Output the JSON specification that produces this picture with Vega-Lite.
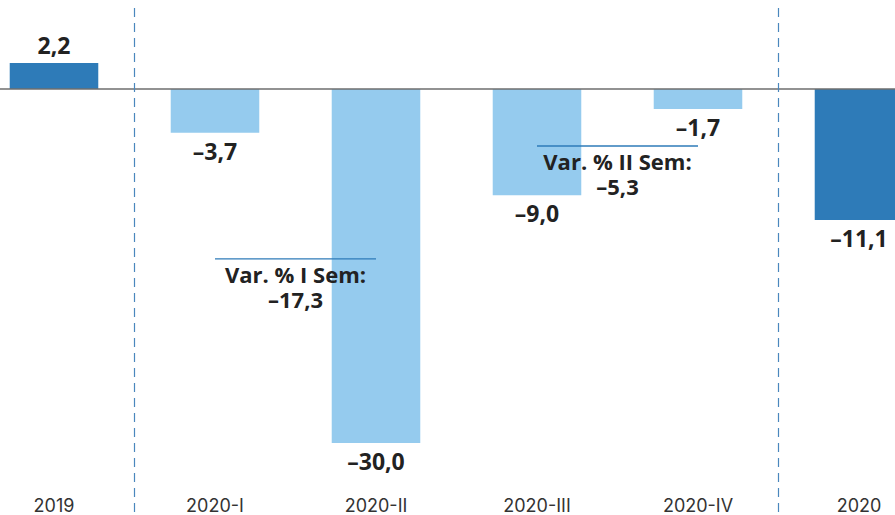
{
  "$schema": "https://vega.github.io/schema/vega-lite/v6.json",
  "width": 895,
  "height": 515,
  "autosize": "none",
  "padding": 0,
  "background": "white",
  "config": {"view": {"stroke": null}},
  "datasets": {
    "bars": [
      {"cat": "2019", "value": 2.2, "label": "2,2", "kind": "year"},
      {"cat": "2020-I", "value": -3.7, "label": "–3,7", "kind": "quarter"},
      {"cat": "2020-II", "value": -30.0, "label": "–30,0", "kind": "quarter"},
      {"cat": "2020-III", "value": -9.0, "label": "–9,0", "kind": "quarter"},
      {"cat": "2020-IV", "value": -1.7, "label": "–1,7", "kind": "quarter"},
      {"cat": "2020", "value": -11.1, "label": "–11,1", "kind": "year"}
    ],
    "dividers": [{"cat": "2019"}, {"cat": "2020-IV"}],
    "notes": [
      {"from": "2020-I", "to": "2020-II", "lineAt": -14.4, "text": ["Var. % I Sem:", "–17,3"]},
      {"from": "2020-III", "to": "2020-IV", "lineAt": -4.83, "text": ["Var. % II Sem:", "–5,3"]}
    ]
  },
  "layer": [
    {
      "data": {"name": "bars"},
      "mark": {"type": "bar", "width": {"band": 0.55}},
      "encoding": {
        "x": {
          "field": "cat", "type": "nominal", "sort": null,
          "scale": {"range": [-26.5, 939.5], "paddingInner": 0, "paddingOuter": 0},
          "axis": {"title": null, "domain": false, "ticks": false, "grid": false, "labelAngle": 0, "offset": -25,
                   "labelFont": "Inter", "labelFontSize": 18, "labelColor": "#333333", "labelPadding": 7}
        },
        "y": {
          "field": "value", "type": "quantitative",
          "scale": {"domain": [-36.1, 7.54], "nice": false, "zero": false},
          "axis": null
        },
        "color": {
          "field": "kind", "type": "nominal",
          "scale": {"domain": ["year", "quarter"], "range": ["#2e7bb8", "#95cbee"]},
          "legend": null
        }
      }
    },
    {
      "data": {"name": "bars"},
      "transform": [{"filter": "datum.value > 0"}],
      "mark": {"type": "text", "baseline": "bottom", "dy": -4, "font": "Open Sans", "fontWeight": "bold", "fontSize": 23, "color": "#222222"},
      "encoding": {
        "x": {"field": "cat", "type": "nominal", "sort": null},
        "y": {"field": "value", "type": "quantitative"},
        "text": {"field": "label"}
      }
    },
    {
      "data": {"name": "bars"},
      "transform": [{"filter": "datum.value < 0"}],
      "mark": {"type": "text", "baseline": "top", "dy": 9, "font": "Open Sans", "fontWeight": "bold", "fontSize": 23, "color": "#222222"},
      "encoding": {
        "x": {"field": "cat", "type": "nominal", "sort": null},
        "y": {"field": "value", "type": "quantitative"},
        "text": {"field": "label"}
      }
    },
    {
      "data": {"values": [{"zero": 0}]},
      "mark": {"type": "rule", "color": "#6e6e6e", "strokeWidth": 1.5},
      "encoding": {"y": {"field": "zero", "type": "quantitative"}}
    },
    {
      "data": {"name": "dividers"},
      "mark": {"type": "rule", "color": "#4a87bd", "strokeWidth": 1.2, "strokeDash": [9, 6], "yOffset": 8},
      "encoding": {
        "x": {"field": "cat", "type": "nominal", "sort": null, "bandPosition": 1}
      }
    },
    {
      "data": {"name": "notes"},
      "mark": {"type": "rule", "color": "#2e7bb8", "strokeWidth": 1.3},
      "encoding": {
        "x": {"field": "from", "type": "nominal", "sort": null, "bandPosition": 0.5},
        "x2": {"field": "to"},
        "y": {"field": "lineAt", "type": "quantitative"}
      }
    },
    {
      "data": {"name": "notes"},
      "mark": {"type": "text", "baseline": "top", "dy": 7, "lineHeight": 25, "font": "Open Sans", "fontWeight": "bold", "fontSize": 22, "color": "#222222"},
      "encoding": {
        "x": {"field": "from", "type": "nominal", "sort": null, "bandPosition": 1},
        "y": {"field": "lineAt", "type": "quantitative"},
        "text": {"field": "text"}
      }
    }
  ]
}
